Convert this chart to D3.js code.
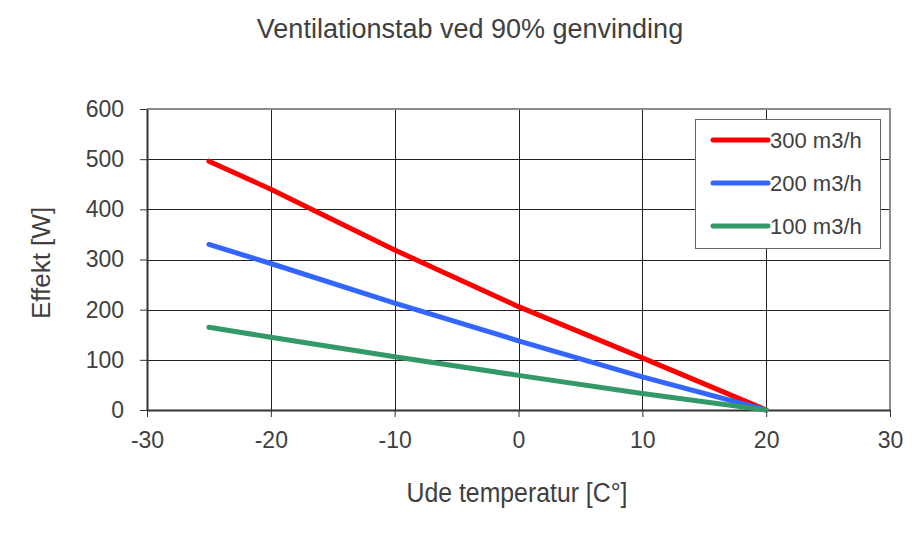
<!DOCTYPE html>
<html>
<head>
<meta charset="utf-8">
<script src="https://cdn.jsdelivr.net/npm/d3@7"></script>
<style>
  body { margin: 0; background: #fff; }
  text { font-family: "Liberation Sans", Arial, sans-serif; fill: #404040; }
</style>
</head>
<body>
<div id="chart"></div>
<script>
// data
var temps = [-25, -20, -10, 0, 10, 20];
var flow300 = [496, 440, 319, 206, 104, 0];
var flow200 = [330, 292, 213, 138, 66, 0];
var flow100 = [165, 145, 106, 69, 33, 0];
var seriesNames = ["300 m3/h", "200 m3/h", "100 m3/h"];
var xTicks = [-30, -20, -10, 0, 10, 20, 30];
var yTicks = [0, 100, 200, 300, 400, 500, 600];

var colors = ["#ff0000", "#3366ff", "#339966"];

var W = 914, H = 536;
var margin = {top: 109, right: 24, bottom: 126, left: 147},
    width = W - margin.left - margin.right,
    height = H - margin.top - margin.bottom;

var svg = d3.select("#chart").append("svg")
    .attr("width", W)
    .attr("height", H);

var g = svg.append("g")
    .attr("transform", "translate(" + margin.left + "," + margin.top + ")");

var x = d3.scaleLinear().domain([-30, 30]).range([0, width]);
var y = d3.scaleLinear().domain([0, 600]).range([height, 0]);

// grid
g.selectAll("line.vgrid")
    .data(xTicks.slice(1, -1))
    .enter().append("line")
    .attr("class", "vgrid")
    .attr("x1", function (d) { return Math.round(x(d)) + 0.5; })
    .attr("x2", function (d) { return Math.round(x(d)) + 0.5; })
    .attr("y1", 0).attr("y2", height)
    .style("stroke", "#222").style("stroke-width", 1);

g.selectAll("line.hgrid")
    .data(yTicks.slice(1, -1))
    .enter().append("line")
    .attr("class", "hgrid")
    .attr("y1", function (d) { return Math.round(y(d)) + 0.5; })
    .attr("y2", function (d) { return Math.round(y(d)) + 0.5; })
    .attr("x1", 0).attr("x2", width)
    .style("stroke", "#222").style("stroke-width", 1);

// top and right frame
g.append("path")
    .attr("d", "M0," + y(600) + "H" + x(30) + "V" + y(0))
    .style("fill", "none").style("stroke", "#8c8c8c").style("stroke-width", 2);

// axes (plain hyphen for negatives, like the original)
var fmt = function (d) { return String(d); };
var xAxis = g.append("g")
    .attr("transform", "translate(0," + height + ")")
    .call(d3.axisBottom(x).tickValues(xTicks).tickFormat(fmt).tickSize(7).tickSizeOuter(0).tickPadding(15));
var yAxis = g.append("g")
    .call(d3.axisLeft(y).tickValues(yTicks).tickFormat(fmt).tickSize(7).tickSizeOuter(0).tickPadding(16));

[xAxis, yAxis].forEach(function (a) {
    a.select(".domain").style("stroke", "#333").style("stroke-width", 2);
    a.selectAll(".tick line").style("stroke", "#333");
    a.selectAll(".tick text")
        .style("font-family", "'Liberation Sans', Arial, sans-serif")
        .style("font-size", "23px")
        .style("fill", "#404040");
});

// lines
var allSeries = [flow300, flow200, flow100];
var line = d3.line()
    .x(function (d, i) { return x(temps[i]); })
    .y(function (d) { return y(d); });

g.selectAll("path.series")
    .data(allSeries)
    .enter().append("path")
    .attr("class", "series")
    .attr("d", line)
    .style("fill", "none")
    .style("stroke", function (d, i) { return colors[i]; })
    .style("stroke-width", 5)
    .style("stroke-linecap", "round")
    .style("stroke-linejoin", "round");

// legend
var legend = svg.append("g").attr("transform", "translate(695,119)");
legend.append("rect")
    .attr("x", 0.5).attr("y", 0.5)
    .attr("width", 185).attr("height", 129)
    .style("fill", "#fff").style("stroke", "#666");

var item = legend.selectAll("g.item")
    .data(seriesNames)
    .enter().append("g")
    .attr("class", "item")
    .attr("transform", function (d, i) { return "translate(0," + (21 + i * 43) + ")"; });

item.append("line")
    .attr("x1", 18).attr("x2", 73)
    .style("stroke", function (d, i) { return colors[i]; })
    .style("stroke-width", 5)
    .style("stroke-linecap", "round");

item.append("text")
    .attr("x", 75).attr("y", 8)
    .style("font-size", "22px")
    .text(function (d) { return d; });

// titles
svg.append("text")
    .attr("x", 470).attr("y", 38)
    .attr("text-anchor", "middle")
    .style("font-size", "27px")
    .text("Ventilationstab ved 90% genvinding");

svg.append("text")
    .attr("x", 517).attr("y", 502)
    .attr("text-anchor", "middle")
    .attr("textLength", 221)
    .attr("lengthAdjust", "spacingAndGlyphs")
    .style("font-size", "27px")
    .text("Ude temperatur [C°]");

svg.append("text")
    .attr("transform", "translate(50,263) rotate(-90)")
    .attr("text-anchor", "middle")
    .style("font-size", "26px")
    .text("Effekt [W]");
</script>
</body>
</html>
